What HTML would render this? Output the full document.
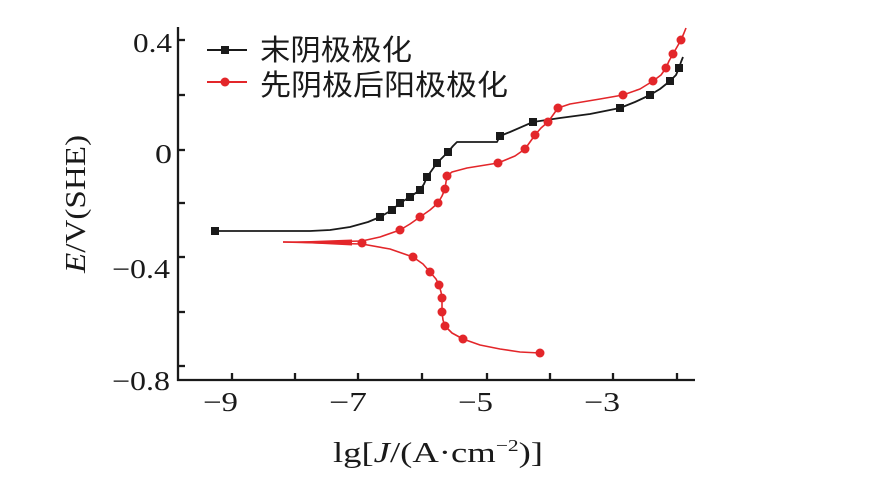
<!DOCTYPE html>
<html><head><meta charset="utf-8"><style>
html,body{margin:0;padding:0;background:#fff;}
svg{display:block;}
</style></head><body>
<svg width="872" height="482" viewBox="0 0 872 482" xmlns="http://www.w3.org/2000/svg">
<rect width="872" height="482" fill="#fff"/>
<!-- axes -->
<g stroke="#1a1a1a" stroke-width="2.3" fill="none">
<line x1="178" y1="27" x2="178" y2="381"/>
<line x1="177" y1="380" x2="695" y2="380"/>
<!-- y ticks -->
<line x1="178" y1="40" x2="185" y2="40"/>
<line x1="178" y1="95" x2="185" y2="95"/>
<line x1="178" y1="150" x2="185" y2="150"/>
<line x1="178" y1="203" x2="185" y2="203"/>
<line x1="178" y1="257" x2="185" y2="257"/>
<line x1="178" y1="312" x2="185" y2="312"/>
<line x1="178" y1="366" x2="185" y2="366"/>
<!-- x ticks -->
<line x1="232" y1="380" x2="232" y2="373"/>
<line x1="295" y1="380" x2="295" y2="373"/>
<line x1="358" y1="380" x2="358" y2="373"/>
<line x1="422" y1="380" x2="422" y2="373"/>
<line x1="487" y1="380" x2="487" y2="373"/>
<line x1="550" y1="380" x2="550" y2="373"/>
<line x1="613" y1="380" x2="613" y2="373"/>
<line x1="677" y1="380" x2="677" y2="373"/>
</g>
<!-- y tick labels -->
<g font-family="'Liberation Serif', serif" font-size="27" fill="#1a1a1a" text-anchor="end">
<text x="172" y="52" textLength="39" lengthAdjust="spacingAndGlyphs">0.4</text>
<text x="172" y="163" textLength="17" lengthAdjust="spacingAndGlyphs">0</text>
<text x="170" y="278" textLength="58" lengthAdjust="spacingAndGlyphs">−0.4</text>
<text x="170" y="390" textLength="58" lengthAdjust="spacingAndGlyphs">−0.8</text>
</g>
<!-- x tick labels -->
<g font-family="'Liberation Serif', serif" font-size="27" fill="#1a1a1a">
<text x="203" y="411" textLength="35" lengthAdjust="spacingAndGlyphs">−9</text>
<text x="329" y="411" textLength="38" lengthAdjust="spacingAndGlyphs">−7</text>
<text x="458" y="411" textLength="35" lengthAdjust="spacingAndGlyphs">−5</text>
<text x="584" y="411" textLength="36" lengthAdjust="spacingAndGlyphs">−3</text>
</g>
<!-- axis titles -->
<text x="333" y="462" font-family="'Liberation Serif', serif" font-size="29" fill="#1a1a1a" textLength="210" lengthAdjust="spacingAndGlyphs">lg[<tspan font-style="italic">J</tspan>/(A·cm<tspan font-size="17" dy="-11">−2</tspan><tspan dy="11">)]</tspan></text>
<text transform="translate(85,204) rotate(-90)" x="0" y="0" text-anchor="middle" font-family="'Liberation Serif', serif" font-size="28" fill="#1a1a1a" textLength="138" lengthAdjust="spacingAndGlyphs"><tspan font-style="italic">E</tspan>/V(SHE)</text>
<!-- legend -->
<line x1="207" y1="50" x2="247" y2="50" stroke="#1a1a1a" stroke-width="2"/>
<rect x="221" y="46" width="8" height="8" fill="#1a1a1a"/>
<line x1="207" y1="82" x2="247" y2="82" stroke="#e3262a" stroke-width="2"/>
<circle cx="225" cy="82" r="4.5" fill="#e3262a"/>
<g font-family="'Liberation Sans', 'Noto Sans CJK SC', sans-serif" font-size="29" fill="#1a1a1a" dominant-baseline="central">
<text x="260" y="51" textLength="152" lengthAdjust="spacingAndGlyphs">末阴极极化</text>
<text x="260" y="86" textLength="248" lengthAdjust="spacingAndGlyphs">先阴极后阳极极化</text>
</g>
<!-- black curve -->
<polyline fill="none" stroke="#1a1a1a" stroke-width="1.8" stroke-linejoin="round" points="215,231 310,231 330,230 350,227 368,222 380,217 392,210 400,203 410,197 420,190 424,184 427,177 432,170 437,163 443,157 448,152 453,146 457,142 497,142 500,136 510,132 533,122 560,118 590,114 620,108 635,102 650,95 660,89 670,81 676,75 679,68 681,62 683,57"/>
<g fill="#1a1a1a">
<rect x="211" y="227" width="8" height="8"/>
<rect x="376" y="213" width="8" height="8"/>
<rect x="388" y="206" width="8" height="8"/>
<rect x="396" y="199" width="8" height="8"/>
<rect x="406" y="193" width="8" height="8"/>
<rect x="416" y="186" width="8" height="8"/>
<rect x="423" y="173" width="8" height="8"/>
<rect x="433" y="159" width="8" height="8"/>
<rect x="444" y="148" width="8" height="8"/>
<rect x="496" y="132" width="8" height="8"/>
<rect x="529" y="118" width="8" height="8"/>
<rect x="616" y="104" width="8" height="8"/>
<rect x="646" y="91" width="8" height="8"/>
<rect x="666" y="77" width="8" height="8"/>
<rect x="675" y="64" width="8" height="8"/>
</g>
<!-- red curves -->
<polygon points="283,242 352,239.5 352,245.5" fill="#e3262a"/>
<polyline fill="none" stroke="#e3262a" stroke-width="1.6" stroke-linejoin="round" points="283,242 320,242 362,241 380,237 400,230 410,224 420,217 430,210 438,203 442,196 445,189 446,182 447,176 452,172 467,168 498,163 515,156 525,149 530,142 535,135 541,128 548,122 553,115 558,108 570,104 600,99 623,95 640,89 653,81 661,75 666,68 669,61 673,54 677,47 681,40 684,33 686,28"/>
<polyline fill="none" stroke="#e3262a" stroke-width="1.6" stroke-linejoin="round" points="283,242 320,243 362,244 390,249 413,257 423,264 430,272 436,279 439,285 441,292 442,298 442,305 442,312 443,320 445,326 452,333 463,339 480,345 500,349 520,352 540,353"/>
<g fill="#e3262a">
<circle cx="362" cy="243" r="4.5"/>
<circle cx="400" cy="230" r="4.5"/>
<circle cx="420" cy="217" r="4.5"/>
<circle cx="438" cy="203" r="4.5"/>
<circle cx="445" cy="189" r="4.5"/>
<circle cx="447" cy="176" r="4.5"/>
<circle cx="498" cy="163" r="4.5"/>
<circle cx="525" cy="149" r="4.5"/>
<circle cx="535" cy="135" r="4.5"/>
<circle cx="548" cy="122" r="4.5"/>
<circle cx="558" cy="108" r="4.5"/>
<circle cx="623" cy="95" r="4.5"/>
<circle cx="653" cy="81" r="4.5"/>
<circle cx="666" cy="68" r="4.5"/>
<circle cx="673" cy="54" r="4.5"/>
<circle cx="681" cy="40" r="4.5"/>
<circle cx="413" cy="257" r="4.5"/>
<circle cx="430" cy="272" r="4.5"/>
<circle cx="439" cy="285" r="4.5"/>
<circle cx="442" cy="298" r="4.5"/>
<circle cx="442" cy="312" r="4.5"/>
<circle cx="445" cy="326" r="4.5"/>
<circle cx="463" cy="339" r="4.5"/>
<circle cx="540" cy="353" r="4.5"/>
</g>
</svg>
</body></html>
